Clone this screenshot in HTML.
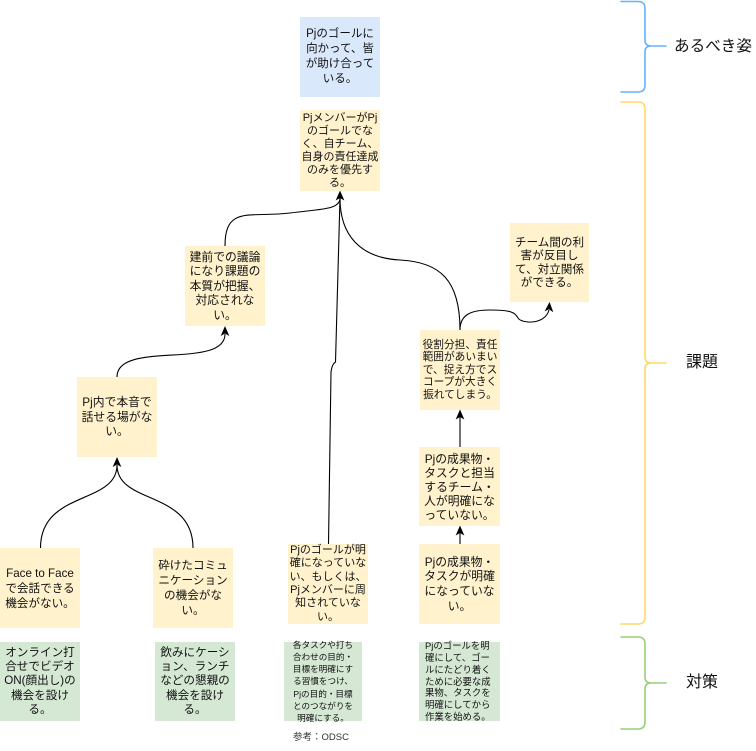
<!DOCTYPE html>
<html>
<head>
<meta charset="utf-8">
<style>
  html,body{margin:0;padding:0;background:#fff;}
  body{width:756px;height:751px;position:relative;overflow:hidden;
       font-family:"Liberation Sans","Noto Sans CJK JP",sans-serif;color:#111;}
  .b{position:absolute;display:flex;align-items:center;justify-content:center;
     text-align:center;white-space:nowrap;box-sizing:border-box;}
  .y{background:#fff2cc;}
  .bl{background:#dae8fc;}
  .g{background:#d5e8d4;}
  .lbl{position:absolute;white-space:nowrap;line-height:1;}
  svg{position:absolute;left:0;top:0;}
</style>
</head>
<body>

<!-- boxes -->
<div class="b bl" style="left:300px;top:17px;width:80px;height:80px;font-size:11.5px;line-height:15px;">Pjのゴールに<br>向かって、皆<br>が助け合って<br>いる。</div>

<div class="b y" style="left:300px;top:110px;width:80px;height:81px;font-size:11px;line-height:13px;">PjメンバーがPj<br>のゴールでな<br>く、自チーム、<br>自身の責任達成<br>のみを優先す<br>る。</div>

<div class="b y" style="left:185px;top:246px;width:80px;height:80px;font-size:11.8px;line-height:14.6px;">建前での議論<br>になり課題の<br>本質が把握、<br>対応されな<br>い。</div>

<div class="b y" style="left:77px;top:377px;width:80px;height:80px;font-size:11.8px;line-height:14.4px;">Pj内で本音で<br>話せる場がな<br>い。</div>

<div class="b y" style="left:0px;top:548px;width:80px;height:80px;font-size:11.6px;line-height:15px;">Face to Face<br>で会話できる<br>機会がない。</div>

<div class="b y" style="left:153px;top:548px;width:80px;height:80px;font-size:11.6px;line-height:15px;">砕けたコミュ<br>ニケーション<br>の機会がな<br>い。</div>

<div class="b y" style="left:288px;top:544px;width:80px;height:80px;font-size:11px;line-height:13.3px;">Pjのゴールが明<br>確になっていな<br>い、もしくは、<br>Pjメンバーに周<br>知されていな<br>い。</div>

<div class="b y" style="left:419px;top:544px;width:81px;height:80px;font-size:11.8px;line-height:14.6px;">Pjの成果物・<br>タスクが明確<br>になっていな<br>い。</div>

<div class="b y" style="left:419px;top:447px;width:81px;height:79px;font-size:11.8px;line-height:14px;">Pjの成果物・<br>タスクと担当<br>するチーム・<br>人が明確にな<br>っていない。</div>

<div class="b y" style="left:420px;top:330px;width:80px;height:80px;font-size:10.7px;line-height:12.4px;">役割分担、責任<br>範囲があいまい<br>で、捉え方でス<br>コープが大きく<br>振れてしまう。</div>

<div class="b y" style="left:510px;top:223px;width:79px;height:79px;font-size:11.6px;line-height:13.2px;">チーム間の利<br>害が反目し<br>て、対立関係<br>ができる。</div>

<div class="b g" style="left:0px;top:642px;width:80px;height:79px;font-size:11.6px;line-height:14.3px;">オンライン打<br>合せでビデオ<br>ON(顔出し)の<br>機会を設け<br>る。</div>

<div class="b g" style="left:155px;top:642px;width:80px;height:79px;font-size:11.6px;line-height:14.3px;">飲みにケーシ<br>ョン、ランチ<br>などの懇親の<br>機会を設け<br>る。</div>

<div class="b g" style="left:284px;top:642px;width:78px;height:79px;font-size:8.6px;line-height:12.1px;">各タスクや打ち<br>合わせの目的・<br>目標を明確にす<br>る習慣をつけ、<br>Pjの目的・目標<br>とのつながりを<br>明確にする。</div>

<div class="b g" style="left:419px;top:642px;width:81px;height:79px;font-size:9.4px;line-height:11.9px;justify-content:flex-start;text-align:left;padding-left:6px;">Pjのゴールを明<br>確にして、ゴー<br>ルにたどり着く<br>ために必要な成<br>果物、タスクを<br>明確にしてから<br>作業を始める。</div>

<div class="lbl" style="left:293px;top:733px;font-size:9.5px;color:#333;">参考：ODSC</div>

<div class="lbl" style="left:674px;top:39px;font-size:15.6px;">あるべき姿</div>
<div class="lbl" style="left:686px;top:355px;font-size:16px;">課題</div>
<div class="lbl" style="left:686px;top:675px;font-size:16px;">対策</div>

<svg width="756" height="751" viewBox="0 0 756 751">
  <g fill="none" stroke-width="1.6" stroke-linecap="round" stroke-linejoin="round">
    <path stroke="#66B2FF" d="M621 1.5 L638 1.5 Q645 1.5 645 8.5 L645 40 Q645 46 651 46 L666 46 M651 46 Q645 46 645 52 L645 85 Q645 92 638 92 L621 92"/>
    <path stroke="#FFD966" d="M621 102 L638 102 Q645 102 645 109 L645 357 Q645 363 651 363 L666 363 M651 363 Q645 363 645 369 L645 617 Q645 624 638 624 L621 624"/>
    <path stroke="#97D077" d="M621 637 L638 637 Q645 637 645 644 L645 677 Q645 683 651 683 L666 683 M651 683 Q645 683 645 689 L645 722 Q645 729 638 729 L621 729"/>
  </g>
  <g fill="none" stroke="#000" stroke-width="1.1">
    <!-- to box2 -->
    <path d="M225 246 C225 205, 250 218, 290 213 C320 209, 340 210, 340 198"/>
    <path d="M328.5 544 L331 372 Q332 364 335.5 362 L340 198"/>
    <path d="M460 330 C460 280, 440 262, 400 260 C360 258, 340 235, 340 198"/>
    <!-- to チーム間 -->
    <path d="M460 330 C460 314, 472 310, 490 310 C510 310, 515 312, 518 318 C522 324, 545 325, 549 310"/>
    <!-- Pj内 -> 建前 -->
    <path d="M117 377 C117 340, 225 370, 225 334"/>
    <!-- vertical -->
    <path d="M460 447 L460 417"/>
    <path d="M460 544 L460 533"/>
    <!-- to Pj内 -->
    <path d="M40.5 548 C40.5 490, 117 505, 117 465"/>
    <path d="M193 548 C193 490, 117 505, 117 465"/>
  </g>
  <g fill="#000" stroke="#000" stroke-width="0.8" stroke-linejoin="miter">
    <polygon points="340,191.5 336.5,199.5 340,197.5 343.5,199.5"/>
    <polygon points="225,327 221.5,335 225,333 228.5,335"/>
    <polygon points="117,458 113.5,466 117,464 120.5,466"/>
    <polygon points="460,410.5 456.5,418.5 460,416.5 463.5,418.5"/>
    <polygon points="460,526.5 456.5,534.5 460,532.5 463.5,534.5"/>
    <polygon points="549.5,303 545.5,310.5 549,308.8 552.5,311.2"/>
  </g>
</svg>

</body>
</html>
